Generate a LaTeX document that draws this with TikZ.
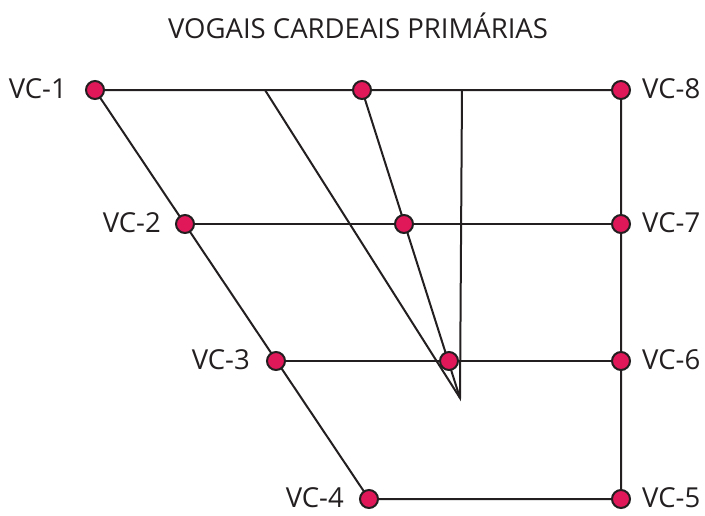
\documentclass[tikz,border=0pt]{standalone}
\usepackage{fontspec}
\setmainfont{Open Sans}
\definecolor{dotred}{HTML}{E0185A}
\definecolor{ink}{HTML}{231F20}
\begin{document}
\begin{tikzpicture}[x=1pt,y=-1pt,
  dot/.style={circle,draw=ink,line width=2pt,fill=dotred,minimum size=18pt,inner sep=0pt},
  ln/.style={draw=ink,line width=2pt},
  lab/.style={font=\fontsize{27.5}{30}\selectfont,text=ink,inner sep=0pt},
]
\useasboundingbox (0,0) rectangle (705,515);
\node[lab,font=\fontsize{27.5}{30}\selectfont] (title) at (358,26) {VOGAIS CARDEAIS PRIMÁRIAS};
% corner coordinates
\coordinate (a1) at (265,90);
\coordinate (a2) at (462,90);
\coordinate (apex) at (460,398);
\path (95,90) coordinate (p1) (185,224) coordinate (p2) (276,361) coordinate (p3) (369,499) coordinate (p4);
\path (621,90) coordinate (p8) (621,224) coordinate (p7) (621,361) coordinate (p6) (621,499) coordinate (p5);
\path (362,90) coordinate (m1) (404,224) coordinate (m2) (449,361) coordinate (m3);
\draw[ln] (p1) -- (p8) -- (p5) -- (p4) -- (p1);
\draw[ln] (p2) -- (p7);
\draw[ln] (p3) -- (p6);
\draw[ln,line join=miter] (a1) -- (apex) -- (a2);
\draw[ln] (m1) -- (apex);
% dots
\foreach \n in {1,...,8} \node[dot] (d\n) at (p\n) {};
\foreach \n in {1,2,3} \node[dot] (dm\n) at (m\n) {};
% labels
\node[lab,anchor=east] (l1) at (67,89) {VC-1};
\node[lab,anchor=east] (l2) at (161,223) {VC-2};
\node[lab,anchor=east] (l3) at (250,360) {VC-3};
\node[lab,anchor=east] (l4) at (344,498) {VC-4};
\node[lab,anchor=west] (l8) at (642,89) {VC-8};
\node[lab,anchor=west] (l7) at (642,223) {VC-7};
\node[lab,anchor=west] (l6) at (642,360) {VC-6};
\node[lab,anchor=west] (l5) at (642,498) {VC-5};
\end{tikzpicture}
\end{document}
